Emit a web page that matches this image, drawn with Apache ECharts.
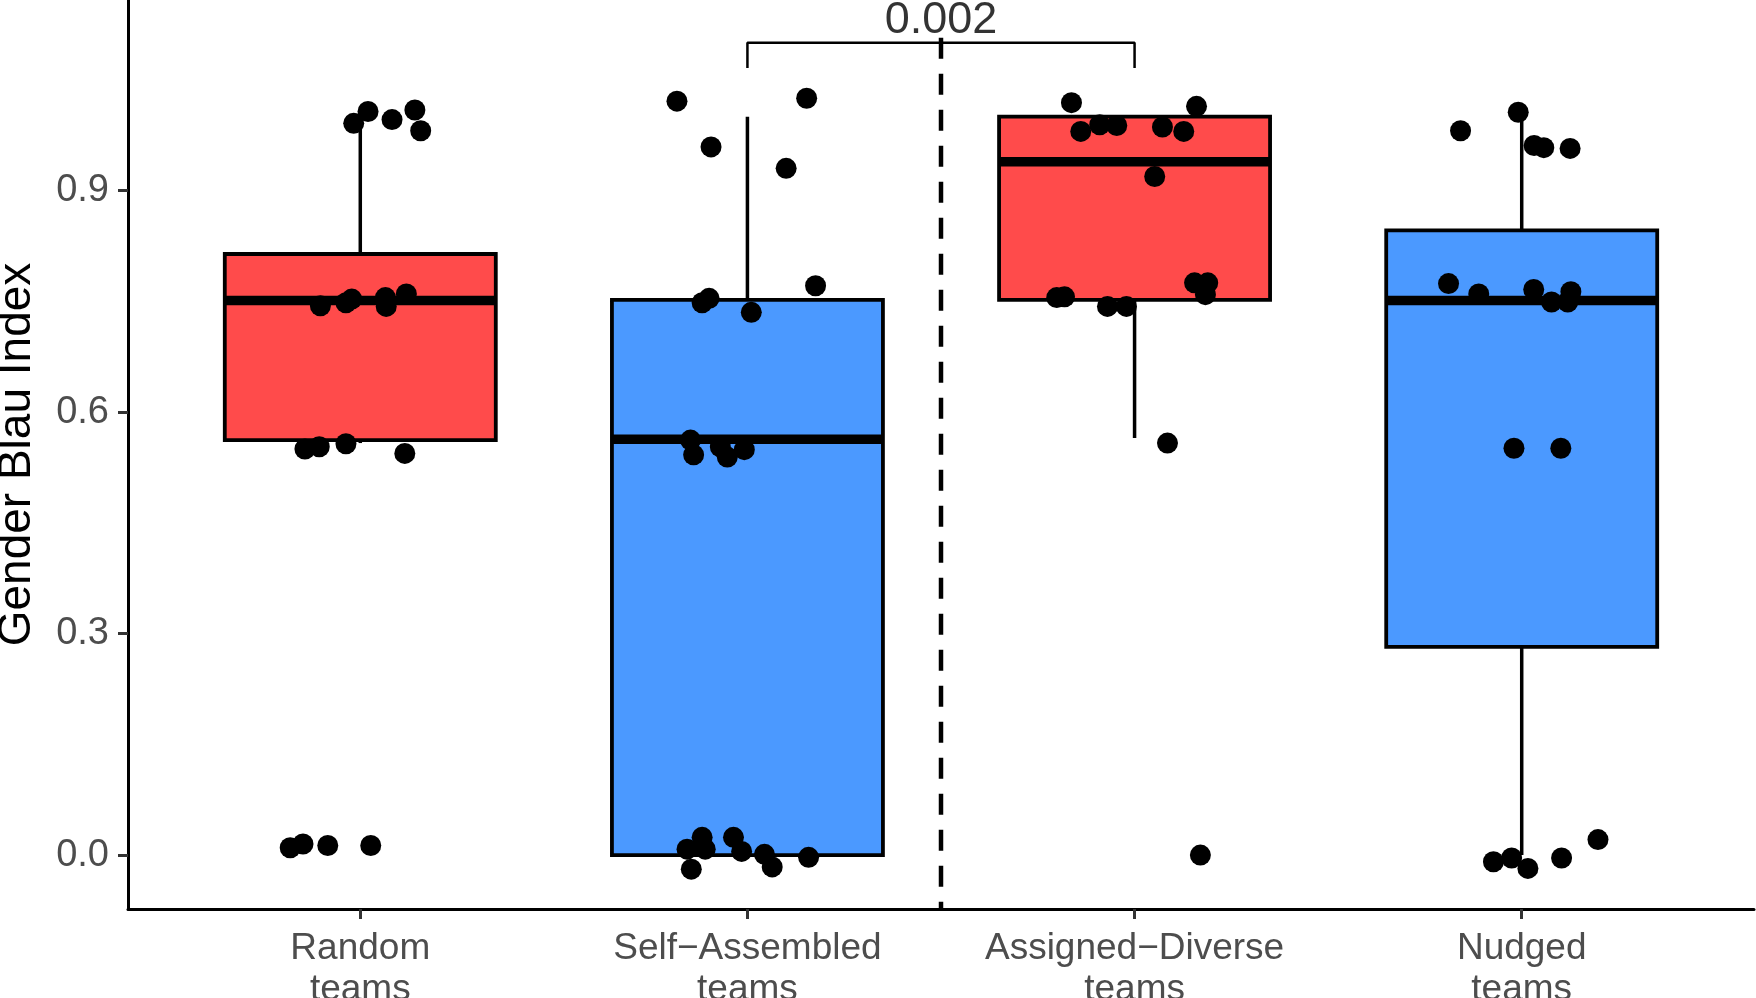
<!DOCTYPE html>
<html>
<head>
<meta charset="utf-8">
<title>Gender Blau Index</title>
<script src="https://cdn.jsdelivr.net/npm/echarts@6/dist/echarts.min.js"></script>
<style>
  html, body { margin: 0; padding: 0; background: #fff; }
  #chart { width: 1756px; height: 998px; }
</style>
</head>
<body>
<div id="chart"></div>
<script>
// groups on the x axis (positions 1..4)
const categories = ['Random\nteams', 'Self\u2212Assembled\nteams', 'Assigned\u2212Diverse\nteams', 'Nudged\nteams']
const groupPos = [1, 2, 3, 4]
const boxColors = ['#FF4B4B', '#4B99FF', '#FF4B4B', '#4B99FF']

// box statistics
const whiskerLow = [0.558, 0.0, 0.565, 0.0]
const q1 = [0.562, 0.0, 0.752, 0.282]
const median = [0.751, 0.563, 0.939, 0.751]
const q3 = [0.814, 0.752, 1.0, 0.846]
const whiskerHigh = [1.0, 1.0, 1.0, 1.0]

// jittered points [x, y]
const randomPts = [
  [0.983, 0.991], [1.020, 1.007], [1.082, 0.996], [1.141, 1.009], [1.156, 0.981],
  [0.897, 0.744], [0.963, 0.748], [0.978, 0.753], [1.065, 0.755], [1.067, 0.743], [1.119, 0.760],
  [0.857, 0.550], [0.894, 0.553], [0.963, 0.557], [1.115, 0.544],
  [0.819, 0.010], [0.852, 0.015], [0.916, 0.013], [1.027, 0.013],
]
const selfPts = [
  [1.818, 1.021], [2.153, 1.025], [1.906, 0.959], [2.100, 0.930], [2.176, 0.771],
  [1.883, 0.748], [1.901, 0.754], [2.010, 0.735],
  [1.853, 0.562], [1.861, 0.542], [1.948, 0.539], [1.992, 0.549], [1.930, 0.553],
  [1.883, 0.024], [1.844, 0.008], [1.891, 0.008], [1.855, -0.019], [1.964, 0.024],
  [1.985, 0.005], [2.044, 0.001], [2.064, -0.016], [2.158, -0.003],
]
const assignedPts = [
  [2.837, 1.019], [3.160, 1.014], [2.861, 0.980], [2.910, 0.989], [2.954, 0.988],
  [3.072, 0.986], [3.127, 0.980], [3.052, 0.919],
  [2.799, 0.755], [2.819, 0.756], [2.930, 0.743], [2.979, 0.743],
  [3.155, 0.775], [3.189, 0.775], [3.183, 0.759],
  [3.085, 0.558], [3.170, 0.0],
]
const nudgedPts = [
  [3.842, 0.981], [3.991, 1.006], [4.032, 0.961], [4.057, 0.958], [4.125, 0.957],
  [3.811, 0.774], [3.889, 0.760], [4.031, 0.766], [4.077, 0.749], [4.127, 0.763], [4.119, 0.749],
  [3.980, 0.551], [4.101, 0.551],
  [3.927, -0.009], [3.974, -0.004], [4.016, -0.018], [4.103, -0.004], [4.197, 0.021],
]

// axes
const yTicks = [0, 0.3, 0.6, 0.9]
const yRange = [-0.073, 1.158]
const xRange = [0.4, 4.6]

// significance bracket between group 2 and 3
const bracketX = [2, 3]
const bracketY = [1.066, 1.100]
const pLabel = '0.002'
const dividerX = 2.5
const dividerY = [1.107, -0.073]

const boxData = groupPos.map((x, i) => [x, whiskerLow[i], q1[i], median[i], q3[i], whiskerHigh[i]])

const font = "'Liberation Sans', Arial, sans-serif"
const chart = echarts.init(document.getElementById('chart'))

function pointSeries(data) {
  return {
    type: 'scatter',
    data: data,
    symbol: 'circle',
    symbolSize: 21,
    itemStyle: { color: '#000', opacity: 1 },
    z: 5,
  }
}

chart.setOption({
  animation: false,
  backgroundColor: '#fff',
  grid: { left: 128, right: 2, top: 0, bottom: 89, outerBoundsMode: 'none', containLabel: false },
  xAxis: {
    type: 'value',
    min: xRange[0],
    max: xRange[1],
    splitLine: { show: false },
    axisLine: { show: true, onZero: false, lineStyle: { color: '#000', width: 3 } },
    axisTick: { show: true, customValues: groupPos, length: 10, lineStyle: { color: '#333', width: 3 } },
    axisLabel: {
      customValues: groupPos,
      formatter: (v) => categories[Math.round(v) - 1],
      color: '#4D4D4D',
      fontSize: 37,
      lineHeight: 41,
      margin: 19,
      fontFamily: font,
    },
  },
  yAxis: {
    type: 'value',
    min: yRange[0],
    max: yRange[1],
    name: 'Gender Blau Index',
    nameLocation: 'middle',
    nameRotate: 90,
    nameGap: 88,
    nameTextStyle: { color: '#000', fontSize: 46, fontFamily: font },
    splitLine: { show: false },
    axisLine: { show: true, onZero: false, lineStyle: { color: '#000', width: 3 } },
    axisTick: { show: true, customValues: yTicks, length: 10, lineStyle: { color: '#333', width: 3 } },
    axisLabel: {
      customValues: yTicks,
      formatter: (v) => v.toFixed(1),
      color: '#4D4D4D',
      fontSize: 38,
      margin: 19,
      fontFamily: font,
    },
  },
  series: [
    {
      type: 'custom',
      data: boxData,
      encode: { x: 0, y: [1, 2, 3, 4, 5] },
      z: 2,
      renderItem: function (params, api) {
        const x = api.value(0)
        const lo = api.coord([x, api.value(1)])
        const b = api.coord([x, api.value(2)])
        const m = api.coord([x, api.value(3)])
        const t = api.coord([x, api.value(4)])
        const hi = api.coord([x, api.value(5)])
        const half = api.size([0.7, 0])[0] / 2
        return {
          type: 'group',
          children: [
            { type: 'line', shape: { x1: lo[0], y1: lo[1], x2: b[0], y2: b[1] }, style: { stroke: '#000', lineWidth: 3.5 } },
            { type: 'line', shape: { x1: t[0], y1: t[1], x2: hi[0], y2: hi[1] }, style: { stroke: '#000', lineWidth: 3.5 } },
            {
              type: 'rect',
              shape: { x: t[0] - half, y: t[1], width: half * 2, height: b[1] - t[1] },
              style: { fill: boxColors[params.dataIndex], stroke: '#000', lineWidth: 3.8 },
            },
            { type: 'line', shape: { x1: m[0] - half, y1: m[1], x2: m[0] + half, y2: m[1] }, style: { stroke: '#000', lineWidth: 9.5 } },
          ],
        }
      },
    },
    pointSeries(randomPts),
    pointSeries(selfPts),
    pointSeries(assignedPts),
    pointSeries(nudgedPts),
    {
      // p-value bracket
      type: 'line',
      data: [
        [bracketX[0], bracketY[0]],
        [bracketX[0], bracketY[1]],
        [bracketX[1], bracketY[1]],
        [bracketX[1], bracketY[0]],
      ],
      symbol: 'none',
      lineStyle: { color: '#000', width: 2.5 },
      z: 3,
    },
    {
      type: 'scatter',
      data: [[(bracketX[0] + bracketX[1]) / 2, bracketY[1]]],
      symbolSize: 0,
      label: {
        show: true,
        position: 'top',
        distance: 0,
        formatter: pLabel,
        color: '#000',
        fontSize: 45,
        fontFamily: font,
      },
      z: 6,
    },
    {
      // dashed divider
      type: 'line',
      data: [[dividerX, dividerY[0]], [dividerX, dividerY[1]]],
      symbol: 'none',
      lineStyle: { color: '#000', width: 4.5, type: [21, 15] },
      z: 4,
    },
  ],
})
</script>
</body>
</html>
